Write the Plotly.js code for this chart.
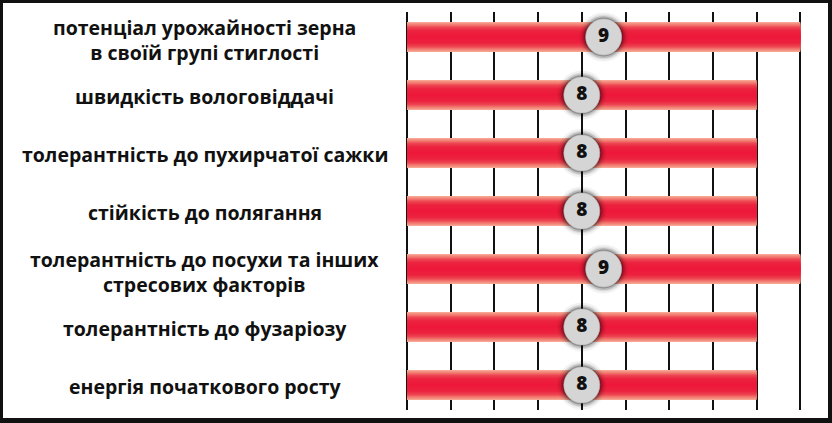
<!DOCTYPE html>
<html>
<head>
<meta charset="utf-8">
<script src="https://cdn.plot.ly/plotly-3.0.1.min.js"></script>
<style>
  html, body { margin: 0; padding: 0; background: #fff; }
  #frame { position: absolute; left: 0; top: 0; width: 832px; height: 423px;
           box-sizing: border-box; border-style: solid; border-color: #111;
           border-width: 3px 4px 5px 3px; background: #fff; }
  #chart { width: 825px; height: 415px; }
</style>
</head>
<body>
<div id="frame"><div id="chart"></div></div>
<script>
// ---- data ----
var categories = [
  "потенціал урожайності зерна<br>в своїй групі стиглості",
  "швидкість вологовіддачі",
  "толерантність до пухирчатої сажки",
  "стійкість до полягання",
  "толерантність до посухи та інших<br>стресових факторів",
  "толерантність до фузаріозу",
  "енергія початкового росту"
];
var scores = [9, 8, 8, 8, 9, 8, 8];
var scoreLabels = ["9", "8", "8", "8", "9", "8", "8"];
var gridTicks = [0, 1, 2, 3, 4, 5, 6, 7, 8, 9];

// ---- styling ----
var barWidth = 0.52;
var stops = [
  [0.00, [246, 166, 146]],
  [0.15, [243, 128, 118]],
  [0.35, [238, 70, 82]],
  [0.60, [236, 34, 62]],
  [1.00, [237, 24, 58]]
];
function colorAt(t) {
  for (var i = 1; i < stops.length; i++) {
    if (t <= stops[i][0]) {
      var a = stops[i - 1], b = stops[i];
      var f = (t - a[0]) / (b[0] - a[0]);
      var c = a[1].map(function (v, k) { return Math.round(v + (b[1][k] - v) * f); });
      return "rgb(" + c.join(",") + ")";
    }
  }
  return "rgb(" + stops[stops.length - 1][1].join(",") + ")";
}

var traces = [];
var layers = 14;
for (var i = 0; i < layers; i++) {
  var t = i / (layers - 1);
  traces.push({
    type: "bar", orientation: "h",
    y: categories, x: scores,
    width: barWidth * (1 - i / layers),
    marker: { color: colorAt(t), line: { width: 0 } },
    hoverinfo: "skip", showlegend: false
  });
}

var mid = scores.map(function (v) { return v / 2; });
var shadows = [[49, "rgba(0,0,0,0.05)"], [45, "rgba(0,0,0,0.09)"], [42, "rgba(0,0,0,0.15)"], [39, "rgba(0,0,0,0.25)"]];
shadows.forEach(function (s) {
  traces.push({
    type: "scatter", mode: "markers", y: categories, x: mid,
    marker: { size: s[0], color: s[1], line: { width: 0 } },
    hoverinfo: "skip", showlegend: false, cliponaxis: false
  });
});
traces.push({
  type: "scatter", mode: "markers+text", y: categories, x: mid,
  text: scoreLabels, textposition: "middle center",
  textfont: { family: "Open Sans", size: 19, color: "#111", weight: 800 },
  marker: { size: 36, color: "#d5d5d5", line: { width: 0.6, color: "#bbbbbb" } },
  hoverinfo: "skip", showlegend: false, cliponaxis: false
});

// category labels centred in the left panel
var annotations = categories.map(function (c) {
  var multi = c.indexOf("<br>") >= 0;
  return {
    xref: "paper", yref: "y", x: -0.4833, y: c,
    text: "<b>" + c + "</b>", showarrow: false,
    xanchor: "center", yanchor: "middle", align: "center",
    yshift: multi ? -3 : -1,
    font: { family: "Open Sans", size: 19.5, color: "#111" }
  };
});

var layout = {
  width: 825, height: 415,
  margin: { l: 404, r: 3, t: 9, b: 8 },
  paper_bgcolor: "#fff", plot_bgcolor: "#fff",
  barmode: "overlay",
  showlegend: false,
  xaxis: {
    range: [0, 9.565],
    tickvals: gridTicks, showticklabels: false, ticks: "",
    showgrid: true, gridcolor: "#111", gridwidth: 2,
    zeroline: true, zerolinecolor: "#111", zerolinewidth: 2,
    showline: false, fixedrange: true
  },
  yaxis: {
    type: "category",
    range: [6.431, -0.431],
    showticklabels: false, ticks: "", showgrid: false, zeroline: false, showline: false,
    fixedrange: true
  },
  annotations: annotations
};

Plotly.newPlot("chart", traces, layout, { staticPlot: true, displayModeBar: false });
</script>
</body>
</html>
